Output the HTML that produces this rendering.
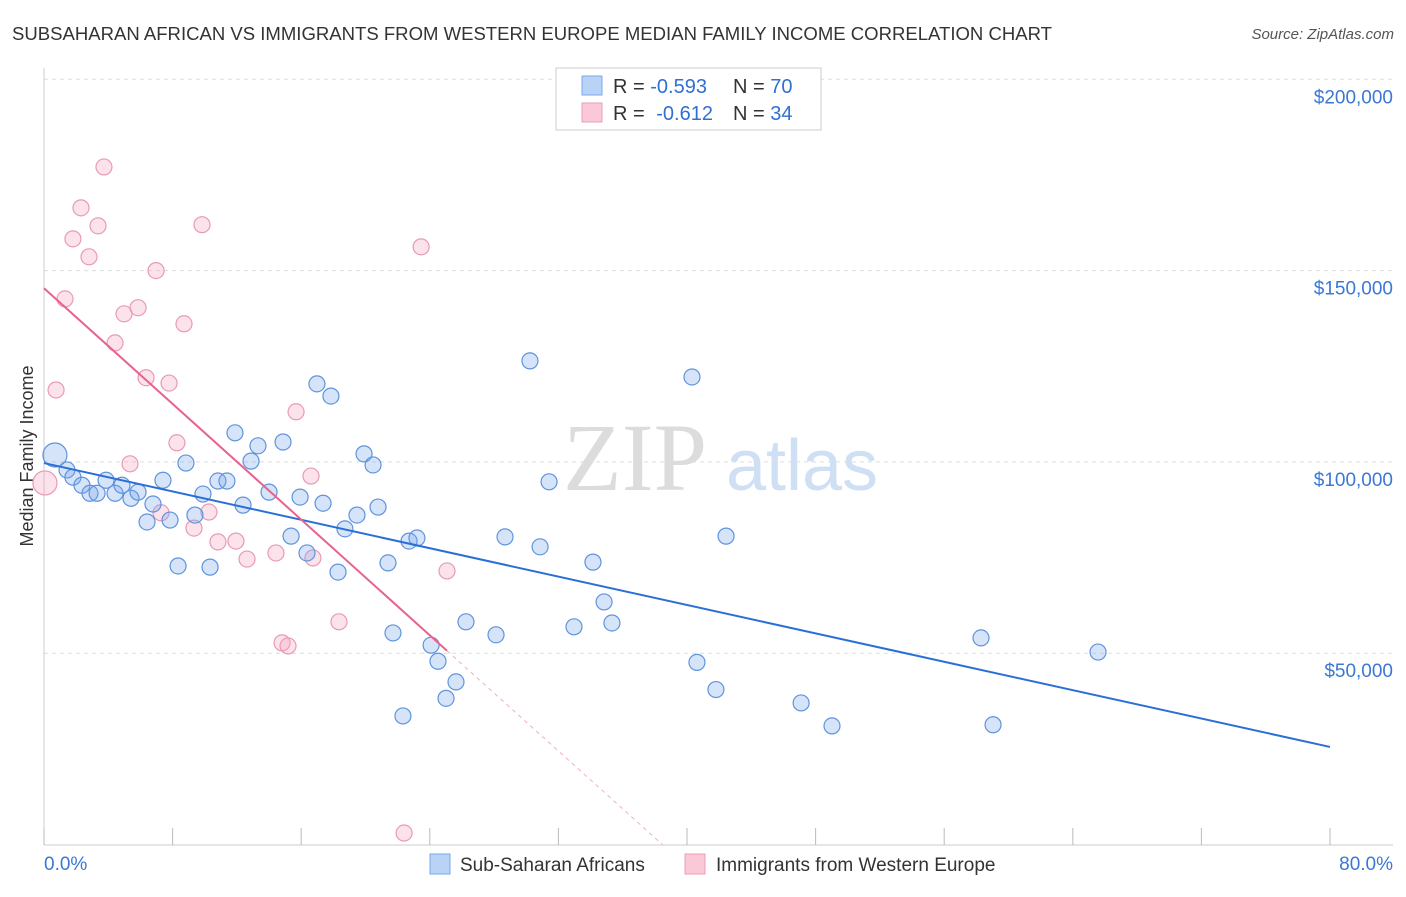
<!DOCTYPE html>
<html><head><meta charset="utf-8"><style>
body{margin:0;width:1406px;height:892px;background:#fff;font-family:"Liberation Sans",sans-serif;overflow:hidden}
</style></head><body>
<svg id="chart" width="1406" height="892" xmlns="http://www.w3.org/2000/svg" font-family="Liberation Sans, sans-serif">
<text x="12" y="40" font-size="18" fill="#333" textLength="1040" lengthAdjust="spacingAndGlyphs">SUBSAHARAN AFRICAN VS IMMIGRANTS FROM WESTERN EUROPE MEDIAN FAMILY INCOME CORRELATION CHART</text>
<text x="1394" y="39" font-size="15" fill="#555" font-style="italic" text-anchor="end">Source: ZipAtlas.com</text>
<text transform="translate(33,456) rotate(-90)" font-size="18" fill="#333" text-anchor="middle">Median Family Income</text>
<g>
<text x="635" y="490" font-size="96" fill="#dcdcdc" font-family="Liberation Serif, serif" text-anchor="middle">ZIP</text>
<text x="802" y="490" font-size="72" fill="#cfe0f5" text-anchor="middle">atlas</text>
</g>
<g id="grid"></g><g id="marks"></g>
<g>
<rect x="556" y="68" width="265" height="62" fill="#fff" stroke="#ccc"/>
<rect x="582" y="76" width="20" height="19" fill="#b8d3f5" stroke="#7aa7e6"/>
<rect x="582" y="103" width="20" height="19" fill="#fbc8d8" stroke="#eb9db8"/>
<text x="613" y="93" font-size="20" fill="#333">R = <tspan fill="#3070d0">-0.593</tspan><tspan x="733">N = </tspan><tspan fill="#3070d0">70</tspan></text>
<text x="613" y="120" font-size="20" fill="#333">R = <tspan fill="#3070d0" dx="6">-0.612</tspan><tspan x="733">N = </tspan><tspan fill="#3070d0">34</tspan></text>
</g>
<g>
<rect x="430" y="854" width="20" height="20" fill="#b8d3f5" stroke="#7aa7e6"/>
<text x="460" y="871" font-size="19" fill="#333">Sub-Saharan Africans</text>
<rect x="685" y="854" width="20" height="20" fill="#fbc8d8" stroke="#eb9db8"/>
<text x="716" y="871" font-size="19" fill="#333">Immigrants from Western Europe</text>
</g>
</svg>
<script>
const yTicks=[50,100,150,200];
const yTickLabels=["$50,000","$100,000","$150,000","$200,000"];
const xTickVals=[0,8,16,24,32,40,48,56,64,72,80];
const blueX=[0.68,1.43,1.80,2.36,2.86,3.30,3.86,4.42,4.85,5.41,5.85,6.41,6.78,7.40,7.84,8.34,8.83,9.39,9.89,10.33,10.82,11.38,11.88,12.38,12.88,13.31,14.0,14.87,15.37,15.93,16.36,16.98,17.36,17.85,18.29,18.72,19.47,19.91,20.47,20.78,21.40,21.71,22.33,22.71,23.20,24.08,24.51,25.01,25.63,26.25,28.12,28.68,30.23,30.86,31.42,32.97,34.15,34.84,35.33,40.31,40.62,41.80,42.43,47.10,49.02,58.29,59.04,65.57];
const blueY=[101.8,97.9,96.0,93.9,91.8,91.8,95.2,91.8,93.9,90.5,92.1,84.3,89.0,95.2,84.8,72.8,99.7,86.1,91.6,72.5,95.0,95.0,107.6,88.7,100.2,104.2,92.1,105.2,80.6,90.8,76.2,120.4,89.2,117.2,71.2,82.5,86.1,102.1,99.2,88.2,73.6,55.3,33.6,79.3,80.1,52.1,47.9,38.2,42.5,58.2,54.8,80.4,126.4,77.8,94.8,56.9,73.8,63.4,57.9,122.2,47.6,40.5,80.6,37.0,31.0,54.0,31.3,50.3];
const pinkX=[0.06,0.75,1.31,1.80,2.30,2.80,3.36,3.73,4.42,4.98,5.35,5.85,6.35,6.97,7.28,7.78,8.27,8.71,9.33,9.83,10.26,10.82,11.94,12.63,14.43,14.81,15.18,15.68,16.61,16.73,18.35,22.40,23.46,25.07];
const pinkY=[94.5,118.8,142.6,158.3,166.4,153.6,161.7,177.1,131.1,138.7,99.5,140.3,122.0,150.0,86.7,120.6,105.0,136.1,82.7,162.0,86.9,79.1,79.3,74.6,76.2,52.7,51.9,113.1,96.3,74.9,58.2,3.0,156.2,71.5];
const blueTrend=[99.7,25.5];
const pinkTrend=[145.4,-3.78];
const NS="http://www.w3.org/2000/svg";
const X0=44,X1=1330,YB=844.5,PX_PER_K=191.3/50;
const sx=v=>X0+(v/80)*(X1-X0);
const sy=v=>YB-v*PX_PER_K;
const grid=document.getElementById('grid'),marks=document.getElementById('marks');
function mk(tag,attrs,parent){const e=document.createElementNS(NS,tag);for(const k in attrs)e.setAttribute(k,attrs[k]);parent.appendChild(e);return e;}
yTicks.forEach((t,i)=>{
 const l=mk('line',{x1:44,x2:1393,y1:sy(t),y2:sy(t),stroke:'#ddd','stroke-dasharray':'4,4'},grid);
 
 
 const tx=mk('text',{x:1393,y:sy(t)+24,'font-size':19,fill:'#3a78d4','text-anchor':'end'},grid);
 tx.textContent=yTickLabels[i];
 
 
});
const ax=mk('line',{x1:44,x2:44,y1:68,y2:845,stroke:'#ccc'},grid);


const bx=mk('line',{x1:44,x2:1393,y1:845,y2:845,stroke:'#ccc'},grid);


xTickVals.forEach(v=>{
 const t=mk('line',{x1:sx(v),x2:sx(v),y1:828,y2:845,stroke:'#bbb'},grid);
 
 
});
[[0,'0.0%','start',44],[80,'80.0%','end',1393]].forEach(a=>{
 const t=mk('text',{x:a[3],y:870,'font-size':19,fill:'#3a78d4','text-anchor':a[2]},grid);
 t.textContent=a[1];
 
 
});
function dots(xs,ys,fill,stroke,name){
 xs.forEach((x,i)=>{
  const big=(i===0);
  const c=mk('circle',{cx:sx(x),cy:sy(ys[i]),r:big?12:8,fill:fill,stroke:stroke,'stroke-width':1.2},marks);
  
  
 });
}
dots(pinkX,pinkY,'rgba(244,160,188,0.3)','#e89ab4','pink-point');
dots(blueX,blueY,'rgba(120,165,235,0.3)','#5f93dd','blue-point');
const bl=mk('line',{x1:sx(0),y1:sy(blueTrend[0]),x2:sx(80),y2:sy(blueTrend[1]),stroke:'#2a6fd6','stroke-width':2},marks);


const pEnd=25.07,pZero=-pinkTrend[0]/pinkTrend[1];
const pl=mk('line',{x1:sx(0),y1:sy(pinkTrend[0]),x2:sx(pEnd),y2:sy(pinkTrend[0]+pinkTrend[1]*pEnd),stroke:'#e8628e','stroke-width':2},marks);


const pd=mk('line',{x1:sx(pEnd),y1:sy(pinkTrend[0]+pinkTrend[1]*pEnd),x2:sx(pZero),y2:sy(0),stroke:'#eeb0c4','stroke-width':1,'stroke-dasharray':'4,4'},marks);


</script>
</body></html>
